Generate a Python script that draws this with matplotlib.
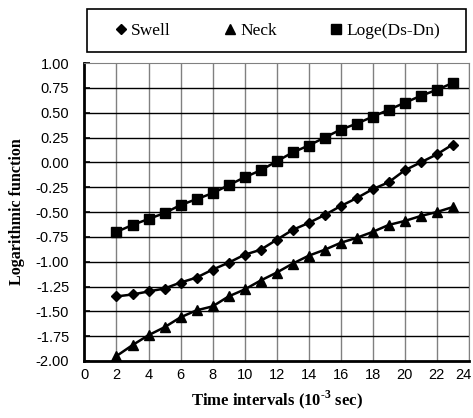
import matplotlib
matplotlib.use("Agg")
import matplotlib.pyplot as plt
from matplotlib.patches import Rectangle
from matplotlib.transforms import ScaledTranslation

# data
t = list(range(2, 24))
swell = [-1.35, -1.33, -1.30, -1.27, -1.21, -1.16, -1.08, -1.01, -0.93, -0.88, -0.78,
         -0.68, -0.61, -0.53, -0.44, -0.36, -0.27, -0.20, -0.08, 0.00, 0.08, 0.18]
neck = [-1.95, -1.84, -1.74, -1.66, -1.56, -1.49, -1.45, -1.35, -1.28, -1.19, -1.11,
        -1.02, -0.94, -0.88, -0.81, -0.76, -0.70, -0.63, -0.59, -0.54, -0.50, -0.45]
loge = [-0.70, -0.63, -0.57, -0.51, -0.43, -0.37, -0.31, -0.23, -0.15, -0.08, 0.01,
        0.10, 0.17, 0.25, 0.33, 0.39, 0.46, 0.53, 0.60, 0.67, 0.73, 0.80]
labels = ['Swell', 'Neck', 'Loge(Ds-Dn)']
xticks = list(range(0, 25, 2))
yticks = [1.00, 0.75, 0.50, 0.25, 0.00, -0.25, -0.50, -0.75, -1.00, -1.25, -1.50, -1.75, -2.00]

plt.rcParams['font.family'] = 'Liberation Sans'
plt.rcParams['mathtext.fontset'] = 'custom'
plt.rcParams['mathtext.rm'] = 'Liberation Serif:bold'
plt.rcParams['mathtext.bf'] = 'Liberation Serif:bold'

fig = plt.figure(figsize=(4.73, 4.18), dpi=100)
ax = fig.add_axes([0.1786, 0.1364, 0.8123, 0.7126])

l1, = ax.plot(t, swell, color='k', lw=1.8, marker='D', ms=5.5)
l2, = ax.plot(t, neck, color='k', lw=1.8, marker='^', ms=7.5)
l3, = ax.plot(t, loge, color='k', lw=1.8, marker='s', ms=7)

ax.set_xlim(0, 24)
ax.set_ylim(-2, 1)
ax.set_xticks(xticks)
ax.set_yticks(yticks)
ax.set_yticklabels(['%.2f' % v for v in yticks])

for v in xticks[1:]:
    ax.axvline(v, color='#808080', lw=1.0, zorder=0)
for v in yticks[1:-1]:
    ax.axhline(v, color='k', lw=1.0, zorder=0)

ax.tick_params(axis='both', labelsize=10.5, direction='in', length=4, width=1.2)
ax.tick_params(axis='x', pad=5, length=0)
ax.tick_params(axis='y', pad=11)

# keep the last x label inside the canvas
last = ax.get_xticklabels()[-1]
last.set_transform(last.get_transform() + ScaledTranslation(-5 / 100, 0, fig.dpi_scale_trans))

ax.spines['left'].set_linewidth(2)
ax.spines['bottom'].set_linewidth(2)
ax.spines['top'].set_color('#808080')
ax.spines['right'].set_color('#808080')

ax.set_xlabel(r'Time intervals (10$^{\text{-3}}$ sec)', family='Liberation Serif',
              fontweight='bold', fontsize=12, labelpad=5)
ax.set_ylabel('Logarithmic function', family='Liberation Serif',
              fontweight='bold', fontsize=11.5)
ax.yaxis.set_label_coords(-0.155, 0.5)

# legend box as in the reference
fig.patches.append(Rectangle((87 / 473, 1 - 52 / 418), 379 / 473, 43 / 418,
                             transform=fig.transFigure, fill=False,
                             edgecolor='k', lw=1.2))
leg = fig.legend([l1, l2, l3], labels, loc='center',
                 bbox_to_anchor=(278 / 473, 1 - 30.5 / 418),
                 ncol=3, frameon=False,
                 prop={'family': 'Liberation Serif', 'size': 12.5},
                 handlelength=0.6, handletextpad=0.3, columnspacing=3.1,
                 borderpad=0, borderaxespad=0)
for h in leg.legend_handles:
    h.set_linestyle('none')

fig.savefig('out.png', dpi=100)
